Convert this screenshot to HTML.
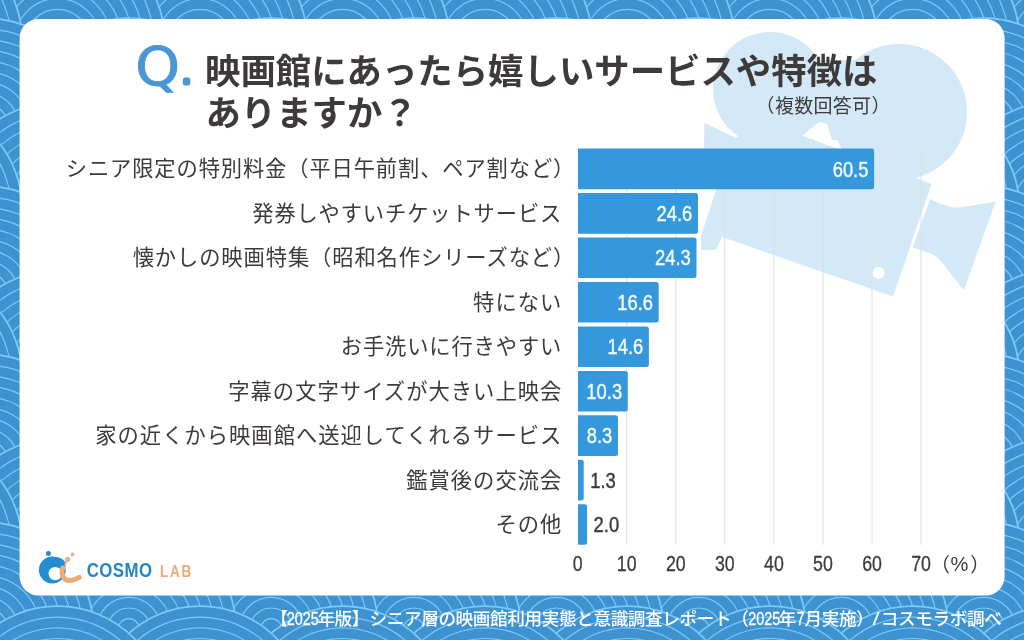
<!DOCTYPE html>
<html lang="ja"><head><meta charset="utf-8"><title>映画館にあったら嬉しいサービスや特徴</title>
<style>
html,body{margin:0;padding:0;background:#3d92cf;}
body{width:1024px;height:640px;overflow:hidden;font-family:"Liberation Sans","Noto Sans CJK JP",sans-serif;}
svg{display:block}
text{font-family:"Liberation Sans","Noto Sans CJK JP",sans-serif;}
.lab{font-size:21.25px;fill:#3e3a39;text-anchor:end;}
.num{font-size:22.4px;stroke-width:0.45px;}
.ax{font-size:21.8px;fill:#3e3a39;text-anchor:middle;stroke:#3e3a39;stroke-width:0.3px;}
</style></head><body>
<svg width="1024" height="640" viewBox="0 0 1024 640">

<defs><g id="w">
<circle r="107.50" fill="#3d92cf"/>
<circle r="107.00"/>
<circle r="96.30"/>
<circle r="85.60"/>
<circle r="74.90"/>
<circle r="64.20"/>
<circle r="53.50"/>
<circle r="42.80"/>
<circle r="32.10"/>
<circle r="21.40"/>
<circle r="10.70"/>
</g></defs>
<rect width="1024" height="640" fill="#3d92cf"/>
<g fill="none" stroke="#7ec8fa" stroke-width="1.2">
<use href="#w" x="1126.2" y="-42.6"/>
<use href="#w" x="983.8" y="-42.6"/>
<use href="#w" x="841.2" y="-42.6"/>
<use href="#w" x="698.8" y="-42.6"/>
<use href="#w" x="556.2" y="-42.6"/>
<use href="#w" x="413.8" y="-42.6"/>
<use href="#w" x="271.2" y="-42.6"/>
<use href="#w" x="128.8" y="-42.6"/>
<use href="#w" x="-13.8" y="-42.6"/>
<use href="#w" x="1055.0" y="41.4"/>
<use href="#w" x="912.5" y="41.4"/>
<use href="#w" x="770.0" y="41.4"/>
<use href="#w" x="627.5" y="41.4"/>
<use href="#w" x="485.0" y="41.4"/>
<use href="#w" x="342.5" y="41.4"/>
<use href="#w" x="200.0" y="41.4"/>
<use href="#w" x="57.5" y="41.4"/>
<use href="#w" x="-85.0" y="41.4"/>
<use href="#w" x="1126.2" y="125.4"/>
<use href="#w" x="983.8" y="125.4"/>
<use href="#w" x="841.2" y="125.4"/>
<use href="#w" x="698.8" y="125.4"/>
<use href="#w" x="556.2" y="125.4"/>
<use href="#w" x="413.8" y="125.4"/>
<use href="#w" x="271.2" y="125.4"/>
<use href="#w" x="128.8" y="125.4"/>
<use href="#w" x="-13.8" y="125.4"/>
<use href="#w" x="1055.0" y="209.4"/>
<use href="#w" x="912.5" y="209.4"/>
<use href="#w" x="770.0" y="209.4"/>
<use href="#w" x="627.5" y="209.4"/>
<use href="#w" x="485.0" y="209.4"/>
<use href="#w" x="342.5" y="209.4"/>
<use href="#w" x="200.0" y="209.4"/>
<use href="#w" x="57.5" y="209.4"/>
<use href="#w" x="-85.0" y="209.4"/>
<use href="#w" x="1126.2" y="293.4"/>
<use href="#w" x="983.8" y="293.4"/>
<use href="#w" x="841.2" y="293.4"/>
<use href="#w" x="698.8" y="293.4"/>
<use href="#w" x="556.2" y="293.4"/>
<use href="#w" x="413.8" y="293.4"/>
<use href="#w" x="271.2" y="293.4"/>
<use href="#w" x="128.8" y="293.4"/>
<use href="#w" x="-13.8" y="293.4"/>
<use href="#w" x="1055.0" y="377.4"/>
<use href="#w" x="912.5" y="377.4"/>
<use href="#w" x="770.0" y="377.4"/>
<use href="#w" x="627.5" y="377.4"/>
<use href="#w" x="485.0" y="377.4"/>
<use href="#w" x="342.5" y="377.4"/>
<use href="#w" x="200.0" y="377.4"/>
<use href="#w" x="57.5" y="377.4"/>
<use href="#w" x="-85.0" y="377.4"/>
<use href="#w" x="1126.2" y="461.4"/>
<use href="#w" x="983.8" y="461.4"/>
<use href="#w" x="841.2" y="461.4"/>
<use href="#w" x="698.8" y="461.4"/>
<use href="#w" x="556.2" y="461.4"/>
<use href="#w" x="413.8" y="461.4"/>
<use href="#w" x="271.2" y="461.4"/>
<use href="#w" x="128.8" y="461.4"/>
<use href="#w" x="-13.8" y="461.4"/>
<use href="#w" x="1055.0" y="545.4"/>
<use href="#w" x="912.5" y="545.4"/>
<use href="#w" x="770.0" y="545.4"/>
<use href="#w" x="627.5" y="545.4"/>
<use href="#w" x="485.0" y="545.4"/>
<use href="#w" x="342.5" y="545.4"/>
<use href="#w" x="200.0" y="545.4"/>
<use href="#w" x="57.5" y="545.4"/>
<use href="#w" x="-85.0" y="545.4"/>
<use href="#w" x="1126.2" y="629.4"/>
<use href="#w" x="983.8" y="629.4"/>
<use href="#w" x="841.2" y="629.4"/>
<use href="#w" x="698.8" y="629.4"/>
<use href="#w" x="556.2" y="629.4"/>
<use href="#w" x="413.8" y="629.4"/>
<use href="#w" x="271.2" y="629.4"/>
<use href="#w" x="128.8" y="629.4"/>
<use href="#w" x="-13.8" y="629.4"/>
<use href="#w" x="1055.0" y="713.4"/>
<use href="#w" x="912.5" y="713.4"/>
<use href="#w" x="770.0" y="713.4"/>
<use href="#w" x="627.5" y="713.4"/>
<use href="#w" x="485.0" y="713.4"/>
<use href="#w" x="342.5" y="713.4"/>
<use href="#w" x="200.0" y="713.4"/>
<use href="#w" x="57.5" y="713.4"/>
<use href="#w" x="-85.0" y="713.4"/>
</g>
<rect x="19.6" y="19" width="985" height="576.6" rx="19" ry="19" fill="#fff"/>
<g fill="#d3e9f7">
<circle cx="770" cy="89" r="57"/>
<circle cx="899" cy="112" r="68"/>
<polygon points="704.4,123 736,138 760,120 932,184 893,296.5 722,237 716,250 701,250 701,236 716,190 704,150"/>
<path d="M930 199.500L947 206Q955 208.500 963 207L995.600 201.700L963.900 290.300L943 264Q938 257 932 254L912.500 247.600Z"/>
<rect x="812" y="60" width="50" height="80"/>
</g>
<polygon points="802.5,135.4 819,122 827,123.7 834,146.6" fill="#fff"/>
<circle cx="878.4" cy="273" r="6" fill="#fff"/>
<line x1="932.5" y1="184" x2="911" y2="246" stroke="#fff" stroke-width="1.6"/>
<text transform="translate(135.2 84.6) scale(1.075 1)" style="font-family:'DejaVu Sans','Liberation Sans',sans-serif" font-size="53" fill="#4b96d4" stroke="#4b96d4" stroke-width="0.9" stroke-linejoin="round">Q</text>
<text x="182.8" y="83.2" style="font-family:'DejaVu Sans','Liberation Sans',sans-serif" font-size="24" fill="#4b96d4" stroke="#4b96d4" stroke-width="5" stroke-linejoin="round">.</text>
<text x="205" y="84" font-size="35.4" font-weight="700" fill="#3e3a39">映画館にあったら嬉しいサービスや特徴は</text>
<text x="205.4" y="126.3" font-size="35.4" font-weight="700" fill="#3e3a39">ありますか？</text>
<text x="755.6" y="112.8" font-size="19" fill="#3e3a39" letter-spacing="0.3">（複数回答可）</text>
<g stroke="#dedede" stroke-width="1">
<line x1="626.7" y1="148.6" x2="626.7" y2="544.8"/>
<line x1="675.8" y1="148.6" x2="675.8" y2="544.8"/>
<line x1="724.8" y1="148.6" x2="724.8" y2="544.8"/>
<line x1="773.9" y1="148.6" x2="773.9" y2="544.8"/>
<line x1="822.9" y1="148.6" x2="822.9" y2="544.8"/>
<line x1="872.0" y1="148.6" x2="872.0" y2="544.8"/>
<line x1="921.0" y1="148.6" x2="921.0" y2="544.8"/>
</g>
<path d="M578.0 148.6H871.6Q874.1 148.6 874.1 151.1V186.7Q874.1 189.2 871.6 189.2H578.0Z" fill="#3598dc"/>
<text class="lab" x="575.2" y="176.4" letter-spacing="0.90">シニア限定の特別料金（平日午前割、ペア割など）</text>
<text class="num" transform="translate(868.4 176.5) scale(0.82 1)" text-anchor="end" fill="#f2f9ff" stroke="#f2f9ff">60.5</text>
<path d="M578.0 193.1H695.5Q698.0 193.1 698.0 195.6V231.2Q698.0 233.7 695.5 233.7H578.0Z" fill="#3598dc"/>
<text class="lab" x="562.2" y="220.9" letter-spacing="0.90">発券しやすいチケットサービス</text>
<text class="num" transform="translate(692.3 221.0) scale(0.82 1)" text-anchor="end" fill="#f2f9ff" stroke="#f2f9ff">24.6</text>
<path d="M578.0 237.5H694.0Q696.5 237.5 696.5 240.0V275.6Q696.5 278.1 694.0 278.1H578.0Z" fill="#3598dc"/>
<text class="lab" x="575.2" y="265.3" letter-spacing="0.93">懐かしの映画特集（昭和名作シリーズなど）</text>
<text class="num" transform="translate(690.8 265.4) scale(0.82 1)" text-anchor="end" fill="#f2f9ff" stroke="#f2f9ff">24.3</text>
<path d="M578.0 282.0H656.2Q658.7 282.0 658.7 284.5V320.1Q658.7 322.6 656.2 322.6H578.0Z" fill="#3598dc"/>
<text class="lab" x="562.4" y="309.8" letter-spacing="1.07">特にない</text>
<text class="num" transform="translate(653.0 309.9) scale(0.82 1)" text-anchor="end" fill="#f2f9ff" stroke="#f2f9ff">16.6</text>
<path d="M578.0 326.4H646.4Q648.9 326.4 648.9 328.9V364.5Q648.9 367.0 646.4 367.0H578.0Z" fill="#3598dc"/>
<text class="lab" x="562.2" y="354.2" letter-spacing="0.89">お手洗いに行きやすい</text>
<text class="num" transform="translate(643.2 354.3) scale(0.82 1)" text-anchor="end" fill="#f2f9ff" stroke="#f2f9ff">14.6</text>
<path d="M578.0 370.9H625.3Q627.8 370.9 627.8 373.4V409.0Q627.8 411.5 625.3 411.5H578.0Z" fill="#3598dc"/>
<text class="lab" x="562.4" y="398.7" letter-spacing="1.07">字幕の文字サイズが大きい上映会</text>
<text class="num" transform="translate(622.1 398.8) scale(0.82 1)" text-anchor="end" fill="#f2f9ff" stroke="#f2f9ff">10.3</text>
<path d="M578.0 415.3H615.5Q618.0 415.3 618.0 417.8V453.4Q618.0 455.9 615.5 455.9H578.0Z" fill="#3598dc"/>
<text class="lab" x="562.3" y="443.1" letter-spacing="1.05">家の近くから映画館へ送迎してくれるサービス</text>
<text class="num" transform="translate(612.3 443.2) scale(0.82 1)" text-anchor="end" fill="#f2f9ff" stroke="#f2f9ff">8.3</text>
<path d="M578.0 459.8H581.2Q583.7 459.8 583.7 462.2V497.9Q583.7 500.4 581.2 500.4H578.0Z" fill="#3598dc"/>
<text class="lab" x="562.4" y="487.6" letter-spacing="1.07">鑑賞後の交流会</text>
<text class="num" transform="translate(590.2 487.7) scale(0.82 1)" fill="#3e3a39" stroke="#3e3a39">1.3</text>
<path d="M578.0 504.2H584.6Q587.1 504.2 587.1 506.7V542.3Q587.1 544.8 584.6 544.8H578.0Z" fill="#3598dc"/>
<text class="lab" x="562.4" y="532.0" letter-spacing="1.07">その他</text>
<text class="num" transform="translate(593.6 532.1) scale(0.82 1)" fill="#3e3a39" stroke="#3e3a39">2.0</text>
<text class="ax" transform="translate(577.7 571.2) scale(0.815 1)">0</text>
<text class="ax" transform="translate(626.7 571.2) scale(0.815 1)">10</text>
<text class="ax" transform="translate(675.8 571.2) scale(0.815 1)">20</text>
<text class="ax" transform="translate(724.8 571.2) scale(0.815 1)">30</text>
<text class="ax" transform="translate(773.9 571.2) scale(0.815 1)">40</text>
<text class="ax" transform="translate(822.9 571.2) scale(0.815 1)">50</text>
<text class="ax" transform="translate(872.0 571.2) scale(0.815 1)">60</text>
<text class="ax" transform="translate(921.0 571.2) scale(0.815 1)">70</text>
<text x="930.5" y="571.6" font-size="19.5" fill="#3e3a39">（</text>
<text transform="translate(950.5 571.3) scale(0.99 1)" font-size="20.3" fill="#3e3a39">%</text>
<text x="970.2" y="571.6" font-size="19.5" fill="#3e3a39">）</text>
<g>
<path d="M66.300 561.500Q63.500 566 63.200 569" fill="none" stroke="#f3c3a0" stroke-width="3" stroke-linecap="round"/>
<circle cx="52.3" cy="570" r="13.4" fill="#258cd2"/>
<path d="M55 557c5 .3 9 2.500 10.300 5.600l-3.300 4.400-7-2z" fill="#258cd2"/>
<circle cx="55.2" cy="573.6" r="6.7" fill="#fff"/>
<circle cx="48.4" cy="553.5" r="2.5" fill="#258cd2"/>
<path d="M62.600 568Q61 573.500 63.500 577.500Q67.500 583.500 79.200 577.400" fill="none" stroke="#f0aa78" stroke-width="5" stroke-linecap="round"/>
<circle cx="67.7" cy="559.3" r="2.5" fill="#f0aa78"/>
<circle cx="72.4" cy="554.6" r="2" fill="#eeb0a0"/>
</g>
<text transform="translate(86.8 577.2) scale(0.87 1)" font-size="19.3" font-weight="700" fill="#2585be" letter-spacing="0.5">COSMO</text>
<text transform="translate(160 576.6) scale(0.8 1)" font-size="17" font-weight="700" fill="#f0aa78" letter-spacing="2.1">LAB</text>
<text x="270.6" y="625.3" font-size="17.6" font-weight="500" fill="#fff" letter-spacing="-0.37">【</text>
<text transform="translate(286.7 625) scale(0.757 1)" font-size="19" fill="#fff" stroke="#fff" stroke-width="0.35">2025</text>
<text x="317.4" y="625.3" font-size="17.6" font-weight="500" fill="#fff" letter-spacing="-0.37">年版】</text>
<text x="369.5" y="625.3" font-size="17.6" font-weight="500" fill="#fff" letter-spacing="-0.37">シニア層の映画館利用実態と意識調査レポート（</text>
<text transform="translate(748.2 625) scale(0.757 1)" font-size="19" fill="#fff" stroke="#fff" stroke-width="0.35">2025</text>
<text x="778.8" y="625.3" font-size="17.6" font-weight="500" fill="#fff" letter-spacing="-0.37">年</text>
<text transform="translate(796.4 625) scale(0.757 1)" font-size="19" fill="#fff" stroke="#fff" stroke-width="0.35">7</text>
<text x="804.5" y="625.3" font-size="17.6" font-weight="500" fill="#fff" letter-spacing="-0.37">月実施）</text>
<text transform="translate(872.6 625) scale(1.35 1)" font-size="19" fill="#fff">/</text>
<text x="880.8" y="625.3" font-size="17.6" font-weight="500" fill="#fff" letter-spacing="-0.37">コスモラボ調べ</text>
</svg></body></html>
